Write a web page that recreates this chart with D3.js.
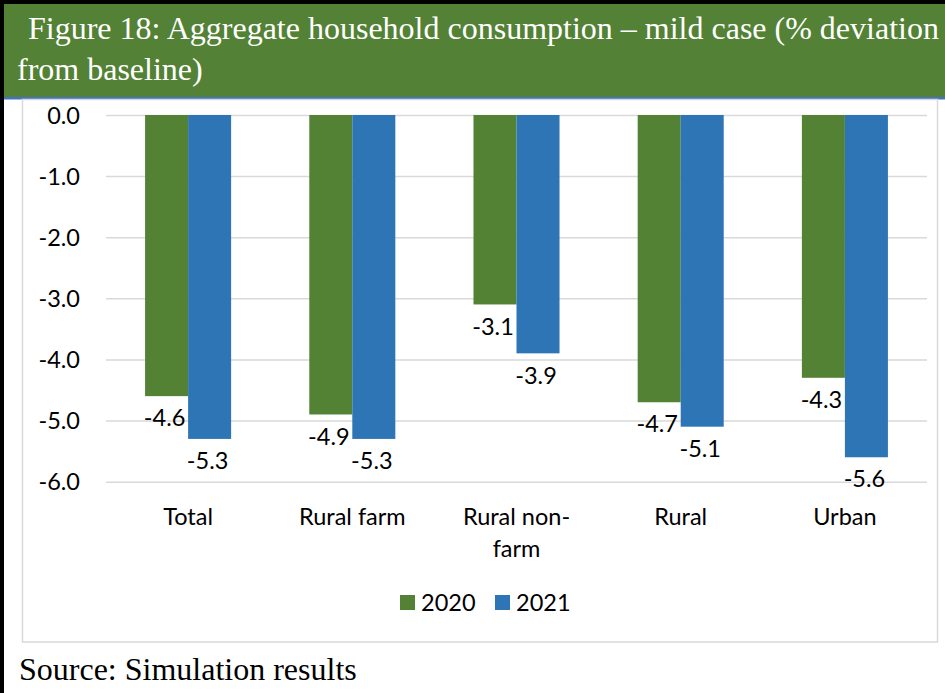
<!DOCTYPE html>
<html>
<head>
<meta charset="utf-8">
<script src="https://cdn.jsdelivr.net/npm/d3@7"></script>
<style>
  html, body { margin: 0; padding: 0; background: #fff; }
  svg { display: block; }
</style>
</head>
<body>
<svg id="chart" width="945" height="693"></svg>
<script>
// Chart data
const categories = ["Total", "Rural farm", "Rural non-farm", "Rural", "Urban"];
const seriesNames = ["2020", "2021"];
const values2020 = [-4.6, -4.9, -3.1, -4.7, -4.3];
const values2021 = [-5.3, -5.3, -3.9, -5.1, -5.6];
const yTicks = [0, -1, -2, -3, -4, -5, -6];
const titleLines = [" Figure 18: Aggregate household consumption \u2013 mild case (% deviation", "from baseline)"];
const sourceText = "Source: Simulation results";

const colors = { "2020": "#548235", "2021": "#2E75B6" };
const sans = "Lato, 'Open Sans', sans-serif";
const serif = "'Liberation Serif', 'Times New Roman', serif";
const sansSize = 23.5;

const svg = d3.select("#chart");

// Frame and title banner
svg.append("rect").attr("x", 0).attr("y", 0).attr("width", 945).attr("height", 693).attr("fill", "#fff");
svg.append("rect").attr("x", 0).attr("y", 0).attr("width", 4).attr("height", 693).attr("fill", "#000");
svg.append("rect").attr("x", 0).attr("y", 0).attr("width", 945).attr("height", 4).attr("fill", "#000");
svg.append("rect").attr("x", 4).attr("y", 4).attr("width", 941).attr("height", 93).attr("fill", "#538135");
svg.append("rect").attr("x", 4).attr("y", 97).attr("width", 941).attr("height", 2.5).attr("fill", "#4472C4");

const title = svg.append("g").attr("font-family", serif).attr("font-size", 32).attr("fill", "#fff");
title.append("text").attr("x", 20).attr("y", 39).attr("xml:space", "preserve").text(titleLines[0]);
title.append("text").attr("x", 17).attr("y", 80).text(titleLines[1]);

// Chart area border
svg.append("rect").attr("x", 22.5).attr("y", 99.5).attr("width", 915).attr("height", 542.5)
  .attr("fill", "#fff").attr("stroke", "#d9d9d9").attr("stroke-width", 1.5);

// Scales
const plot = { left: 106, right: 927, top: 115, bottom: 481.7 };
const y = d3.scaleLinear().domain([-6, 0]).range([plot.bottom, plot.top]);
const x0 = d3.scaleBand().domain(categories).range([plot.left, plot.right])
  .paddingInner(0.476).paddingOuter(0.238);
const x1 = d3.scaleBand().domain(seriesNames).range([0, x0.bandwidth()]);

// Gridlines and value axis labels
const yAxis = d3.axisLeft(y).tickValues(yTicks).tickFormat(d => d.toFixed(1))
  .tickSize(-(plot.right - plot.left)).tickPadding(25);
const gy = svg.append("g").attr("transform", `translate(${plot.left},0)`).call(yAxis);
gy.select(".domain").remove();
gy.selectAll(".tick line").attr("stroke", "#d9d9d9").attr("stroke-width", 1.5);
gy.selectAll(".tick text").attr("font-family", sans).attr("font-size", sansSize).attr("fill", "#000")
  .attr("x", 80 - plot.left).attr("dy", "0.35em");

// Bars
const rows = categories.map((c, i) => ({ category: c, values: [
  { key: "2020", value: values2020[i] },
  { key: "2021", value: values2021[i] }
]}));

const groups = svg.append("g").selectAll("g").data(rows).join("g")
  .attr("transform", d => `translate(${x0(d.category)},0)`);

groups.selectAll("rect").data(d => d.values).join("rect")
  .attr("x", d => x1(d.key))
  .attr("y", y(0))
  .attr("width", x1.bandwidth())
  .attr("height", d => y(d.value) - y(0))
  .attr("fill", d => colors[d.key]);

// Value labels below bar ends
groups.selectAll("text.val").data(d => d.values).join("text")
  .attr("class", "val")
  .attr("x", d => x1(d.key) + x1.bandwidth() / 2 - 2)
  .attr("y", d => y(d.value) + 22)
  .attr("dy", "0.35em")
  .attr("text-anchor", "middle")
  .attr("font-family", sans).attr("font-size", sansSize).attr("fill", "#000")
  .text(d => d.value.toFixed(1));

// Category labels (wrapped after a hyphen when long)
function labelLines(name) {
  const k = name.indexOf("-");
  return (k > 0 && name.length > 10) ? [name.slice(0, k + 1), name.slice(k + 1)] : [name];
}
const xAxis = d3.axisBottom(x0).tickSize(0).tickFormat("");
const gx = svg.append("g").attr("transform", `translate(0,${plot.bottom})`).call(xAxis);
gx.select(".domain").remove();
gx.selectAll(".tick").each(function(d) {
  const t = d3.select(this).append("text")
    .attr("text-anchor", "middle").attr("font-family", sans).attr("font-size", sansSize).attr("fill", "#000");
  labelLines(d).forEach((line, i) => {
    t.append("tspan").attr("x", 0).attr("y", 43 + i * 32).text(line);
  });
});

// Legend
const legend = svg.append("g").attr("font-family", sans).attr("font-size", sansSize);
const legendX = [400, 495];
seriesNames.forEach((s, i) => {
  legend.append("rect").attr("x", legendX[i]).attr("y", 595).attr("width", 15).attr("height", 15).attr("fill", colors[s]);
  legend.append("text").attr("x", legendX[i] + 21).attr("y", 602.5).attr("dy", "0.35em").attr("fill", "#000").text(s);
});

// Source note
svg.append("text").attr("x", 19).attr("y", 680).attr("font-family", serif).attr("font-size", 32)
  .attr("fill", "#000").text(sourceText);
</script>
</body>
</html>
